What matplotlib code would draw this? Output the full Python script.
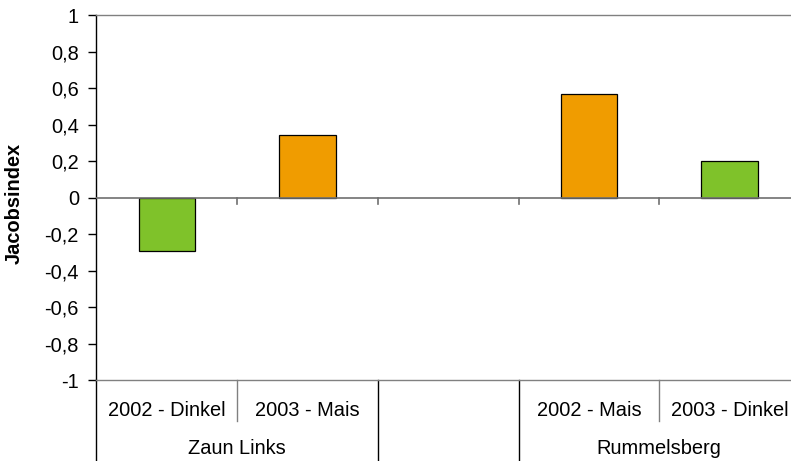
import matplotlib
matplotlib.use("Agg")
import matplotlib.pyplot as plt
from matplotlib.lines import Line2D
import numpy as np

plt.rcParams['font.family'] = ['Liberation Sans', 'DejaVu Sans']

# Data
categories = ["2002 - Dinkel", "2003 - Mais", "", "2002 - Mais", "2003 - Dinkel"]
groups = ["Zaun Links", "", "Rummelsberg"]
group_spans = [(0, 2), (2, 3), (3, 5)]
values = [-0.29, 0.345, None, 0.57, 0.20]
bar_colors = ["#7FC22A", "#F09C00", None, "#F09C00", "#7FC22A"]
y_ticks = [-1, -0.8, -0.6, -0.4, -0.2, 0, 0.2, 0.4, 0.6, 0.8, 1]

FS = 14.4
W, H = 791, 461
fig = plt.figure(figsize=(W / 100, H / 100), dpi=100)
ax_l, ax_r, ax_t, ax_b = 96.3, 800.0, 15.5, 380.0
ax = fig.add_axes([ax_l / W, 1 - ax_b / H, (ax_r - ax_l) / W, (ax_b - ax_t) / H])

xs = [i for i, v in enumerate(values) if v is not None]
hs = [values[i] for i in xs]
cs = [bar_colors[i] for i in xs]
ax.bar(xs, hs, width=0.4, color=cs, edgecolor="black", linewidth=0.9, zorder=3)

n = len(categories)
ax.set_xlim(-0.5, n - 0.5)
ax.set_ylim(-1, 1)

# Y axis
ax.set_yticks(y_ticks)
ax.set_yticklabels([("%g" % round(v, 1)).replace(".", ",") for v in y_ticks])
ax.tick_params(axis="y", length=6, width=1, color="black", pad=6.5, labelsize=FS)
ax.set_xticks([])
ax.set_ylabel("Jacobsindex", fontsize=FS, fontweight="bold")
ax.yaxis.set_label_coords((24 - ax_l) / (ax_r - ax_l), (ax_b - 203) / (ax_b - ax_t))

for s in ["top", "bottom"]:
    ax.spines[s].set_color("#808080")
    ax.spines[s].set_linewidth(1)
ax.spines["right"].set_visible(False)
ax.spines["left"].set_color("black")
ax.spines["left"].set_linewidth(1)

# Category axis at zero with tick marks on category boundaries
ax.axhline(0, color="#707070", linewidth=1.2, zorder=4)
tick_len = 6 / (ax_b - ax_t) * 2
for b in np.arange(0.5, n - 0.5, 1.0):
    ax.plot([b, b], [0, -tick_len], color="#707070", linewidth=1.2, zorder=4)

# Multi-level category labels below the plot
tr = ax.get_xaxis_transform()
ax_h = ax_b - ax_t
row1 = -(421 - ax_b) / ax_h
row_bottom = -(H - ax_b) / ax_h
for i, c in enumerate(categories):
    if c:
        ax.text(i, -(410 - ax_b) / ax_h, c, transform=tr, ha="center", va="center",
                fontsize=FS, clip_on=False)
for g, (a, b) in zip(groups, group_spans):
    if g:
        ax.text((a + b - 1) / 2, -(448 - ax_b) / ax_h, g, transform=tr, ha="center",
                va="center", fontsize=FS, clip_on=False)

# separators between categories within a group
for a, b in group_spans:
    for k in range(a + 1, b):
        ax.add_line(Line2D([k - 0.5, k - 0.5], [0, row1], transform=tr, color="#808080",
                           linewidth=1, clip_on=False))
# separators between groups
for a, b in group_spans[1:]:
    ax.add_line(Line2D([a - 0.5, a - 0.5], [0, row_bottom], transform=tr, color="black",
                       linewidth=1, clip_on=False))
ax.add_line(Line2D([-0.5, -0.5], [0, row_bottom], transform=tr, color="black",
                   linewidth=1, clip_on=False))

fig.savefig("out.png", dpi=100)
